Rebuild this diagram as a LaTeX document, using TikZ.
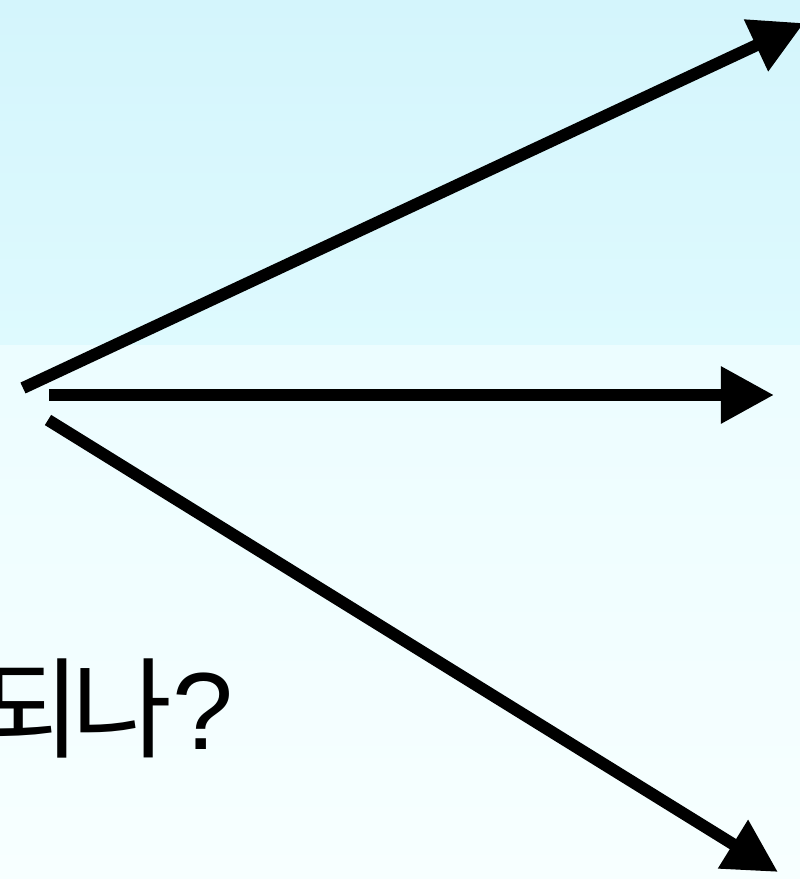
\documentclass[tikz,border=0pt]{standalone}
\usepackage{fontspec}
\newfontfamily\krfont[LetterSpace=-9]{Noto Sans CJK KR}
\newfontfamily\qfont{Liberation Sans}
\usetikzlibrary{arrows.meta}

\definecolor{skytop}{RGB}{212,245,252}
\definecolor{skylow}{RGB}{222,250,254}
\definecolor{paletop}{RGB}{236,253,255}
\definecolor{palelow}{RGB}{247,255,255}

\begin{document}
\begin{tikzpicture}[
  x=0.025cm, y=-0.025cm,
  arr/.style={-{Triangle[length=13.25mm, width=13.5mm]}, line width=3mm, black},
  ask/.style={font=\fontsize{78pt}{82pt}\selectfont, inner sep=0pt, anchor=base east},
]
\useasboundingbox (0,0) rectangle (800,879);
\clip (0,0) rectangle (800,879);

% background
\shade[top color=skytop, bottom color=skylow] (0,0) rectangle (800,345);
\shade[top color=paletop, bottom color=palelow] (0,345) rectangle (800,879);

% arrow ends
\coordinate (up0)  at (23,388);
\coordinate (up1)  at (804,23);
\coordinate (mid0) at (49,395);
\coordinate (mid1) at (774,395);
\coordinate (dn0)  at (48,420);
\coordinate (dn1)  at (778,872);

\foreach \a/\b in {up0/up1, mid0/mid1, dn0/dn1}{ \draw[arr] (\a) -- (\b); }

\node[ask] (q) at (234,749) {{\krfont 되나}{\qfont ?}};
\end{tikzpicture}
\end{document}
